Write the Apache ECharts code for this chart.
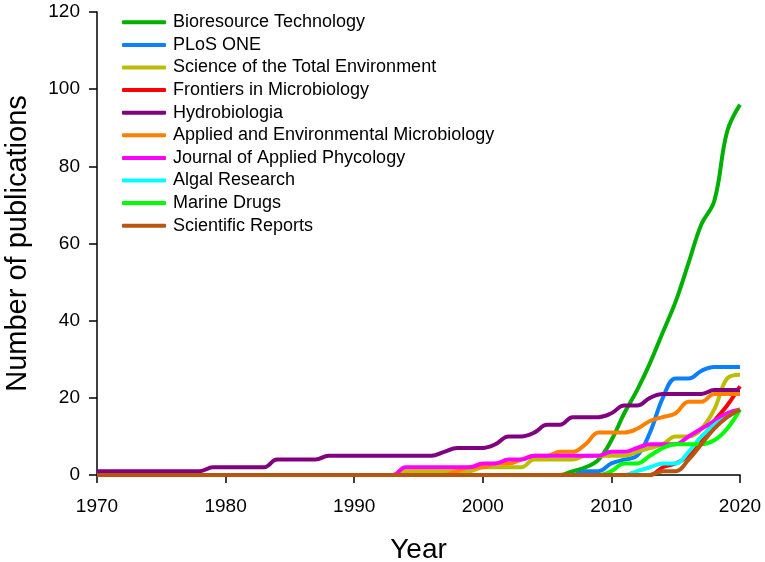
<!DOCTYPE html>
<html lang="en">
<head>
  <meta charset="UTF-8">
  <title>Publications by journal</title>
  <script src="https://cdn.jsdelivr.net/npm/echarts@6/dist/echarts.min.js"></script>
  <style>
    html, body { margin: 0; padding: 0; background: #fff; }
    #chart { width: 765px; height: 562px; }
  </style>
</head>
<body>
  <div id="chart"></div>
  <script>
    var years = [1970, 1971, 1972, 1973, 1974, 1975, 1976, 1977, 1978, 1979,
      1980, 1981, 1982, 1983, 1984, 1985, 1986, 1987, 1988, 1989,
      1990, 1991, 1992, 1993, 1994, 1995, 1996, 1997, 1998, 1999,
      2000, 2001, 2002, 2003, 2004, 2005, 2006, 2007, 2008, 2009,
      2010, 2011, 2012, 2013, 2014, 2015, 2016, 2017, 2018, 2019, 2020]

    // cumulative counts, one value per year 1970..2020
    var bioresource = [0, 0, 0, 0, 0, 0, 0, 0, 0, 0,
      0, 0, 0, 0, 0, 0, 0, 0, 0, 0,
      0, 0, 0, 0, 0, 0, 0, 0, 0, 0,
      0, 0, 0, 0, 0, 0, 0, 1, 2, 4,
      9, 16, 22, 29, 37, 45, 55, 65, 71, 89, 96]
    var plosOne = [0, 0, 0, 0, 0, 0, 0, 0, 0, 0,
      0, 0, 0, 0, 0, 0, 0, 0, 0, 0,
      0, 0, 0, 0, 0, 0, 0, 0, 0, 0,
      0, 0, 0, 0, 0, 0, 0, 0, 1, 1,
      3, 4, 5, 11, 20, 25, 25, 27, 28, 28, 28]
    var sciTotEnv = [0, 0, 0, 0, 0, 0, 0, 0, 0, 0,
      0, 0, 0, 0, 0, 0, 0, 0, 0, 0,
      0, 0, 0, 0, 1, 1, 1, 1, 1, 1,
      2, 2, 2, 2, 4, 4, 4, 4, 5, 5,
      5, 5, 6, 7, 8, 10, 10, 12, 17, 25, 26]
    var frontiers = [0, 0, 0, 0, 0, 0, 0, 0, 0, 0,
      0, 0, 0, 0, 0, 0, 0, 0, 0, 0,
      0, 0, 0, 0, 0, 0, 0, 0, 0, 0,
      0, 0, 0, 0, 0, 0, 0, 0, 0, 0,
      0, 0, 0, 0, 2, 3, 5, 9, 14, 18, 23]
    var hydrobiologia = [1, 1, 1, 1, 1, 1, 1, 1, 1, 2,
      2, 2, 2, 2, 4, 4, 4, 4, 5, 5,
      5, 5, 5, 5, 5, 5, 5, 6, 7, 7,
      7, 8, 10, 10, 11, 13, 13, 15, 15, 15,
      16, 18, 18, 20, 21, 21, 21, 21, 22, 22, 22]
    var applEnvMicro = [0, 0, 0, 0, 0, 0, 0, 0, 0, 0,
      0, 0, 0, 0, 0, 0, 0, 0, 0, 0,
      0, 0, 0, 0, 0, 0, 0, 0, 1, 2,
      2, 3, 3, 4, 5, 5, 6, 6, 8, 11,
      11, 11, 12, 14, 15, 16, 19, 19, 21, 21, 21]
    var jApplPhycol = [0, 0, 0, 0, 0, 0, 0, 0, 0, 0,
      0, 0, 0, 0, 0, 0, 0, 0, 0, 0,
      0, 0, 0, 0, 2, 2, 2, 2, 2, 2,
      3, 3, 4, 4, 5, 5, 5, 5, 5, 5,
      6, 6, 7, 8, 8, 8, 10, 12, 14, 16, 17]
    var algalResearch = [0, 0, 0, 0, 0, 0, 0, 0, 0, 0,
      0, 0, 0, 0, 0, 0, 0, 0, 0, 0,
      0, 0, 0, 0, 0, 0, 0, 0, 0, 0,
      0, 0, 0, 0, 0, 0, 0, 0, 0, 0,
      0, 0, 1, 2, 3, 3, 6, 10, 13, 15, 17]
    var marineDrugs = [0, 0, 0, 0, 0, 0, 0, 0, 0, 0,
      0, 0, 0, 0, 0, 0, 0, 0, 0, 0,
      0, 0, 0, 0, 0, 0, 0, 0, 0, 0,
      0, 0, 0, 0, 0, 0, 0, 0, 0, 0,
      1, 3, 3, 5, 7, 8, 8, 8, 9, 12, 17]
    var sciReports = [0, 0, 0, 0, 0, 0, 0, 0, 0, 0,
      0, 0, 0, 0, 0, 0, 0, 0, 0, 0,
      0, 0, 0, 0, 0, 0, 0, 0, 0, 0,
      0, 0, 0, 0, 0, 0, 0, 0, 0, 0,
      0, 0, 0, 0, 1, 1, 4, 8, 12, 15, 17]

    var journals = [
      { name: 'Bioresource Technology', data: bioresource, color: '#00b000' },
      { name: 'PLoS ONE', data: plosOne, color: '#0a80ff' },
      { name: 'Science of the Total Environment', data: sciTotEnv, color: '#bcbc00' },
      { name: 'Frontiers in Microbiology', data: frontiers, color: '#ff0000' },
      { name: 'Hydrobiologia', data: hydrobiologia, color: '#800080' },
      { name: 'Applied and Environmental Microbiology', data: applEnvMicro, color: '#ff8000' },
      { name: 'Journal of Applied Phycology', data: jApplPhycol, color: '#ff00ff' },
      { name: 'Algal Research', data: algalResearch, color: '#00ffff' },
      { name: 'Marine Drugs', data: marineDrugs, color: '#00ff00' },
      { name: 'Scientific Reports', data: sciReports, color: '#b8560f' }
    ]

    var font = 'Liberation Sans, Arial, sans-serif'
    var chart = echarts.init(document.getElementById('chart'))

    chart.setOption({
      animation: false,
      grid: { left: 97, right: 25, top: 12, bottom: 87, containLabel: false, outerBoundsMode: 'none' },
      legend: {
        orient: 'vertical',
        left: 117,
        top: 6,
        icon: 'roundRect',
        itemWidth: 44,
        itemHeight: 4,
        itemGap: 0,
        data: journals.map(function (j) { return j.name }),
        textStyle: { fontFamily: font, fontSize: 18, color: '#000', lineHeight: 22.6, padding: [0, 0, 0, 2] }
      },
      xAxis: {
        type: 'value',
        min: 1970,
        max: 2020,
        interval: 10,
        name: 'Year',
        nameLocation: 'middle',
        nameGap: 61,
        nameTextStyle: { fontFamily: font, fontSize: 28, color: '#000' },
        axisLine: { lineStyle: { color: '#000', width: 1.5 } },
        axisTick: { length: 8, lineStyle: { color: '#000', width: 1.5 } },
        axisLabel: {
          fontFamily: font, fontSize: 19, color: '#000', margin: 22,
          formatter: function (v) { return String(v) }
        },
        splitLine: { show: false }
      },
      yAxis: {
        type: 'value',
        min: 0,
        max: 120,
        interval: 20,
        name: 'Number of publications',
        nameLocation: 'middle',
        nameGap: 65,
        nameTextStyle: { fontFamily: font, fontSize: 29, color: '#000' },
        axisLine: { show: true, lineStyle: { color: '#000', width: 1.5 } },
        axisTick: { show: true, length: 8, lineStyle: { color: '#000', width: 1.5 } },
        axisLabel: { fontFamily: font, fontSize: 19, color: '#000', margin: 17 },
        splitLine: { show: false }
      },
      series: journals.map(function (j) {
        return {
          name: j.name,
          type: 'line',
          smooth: 0.4,
          showSymbol: false,
          color: j.color,
          lineStyle: { width: 4, color: j.color },
          data: years.map(function (y, i) { return [y, j.data[i]] })
        }
      })
    })
  </script>
</body>
</html>
